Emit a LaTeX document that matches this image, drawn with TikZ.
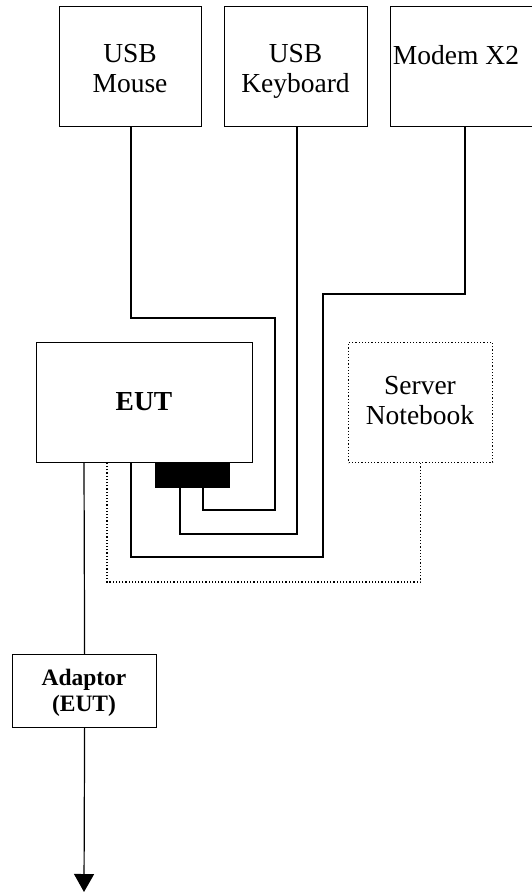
\documentclass[tikz,border=0pt]{standalone}
\usepackage{fontspec}
\setmainfont{Liberation Serif}
\usetikzlibrary{arrows.meta}
\begin{document}
\begin{tikzpicture}[x=1pt,y=-1pt,line width=1.2pt,
  box/.style={draw,rectangle,inner sep=0pt,anchor=north west},
  lbl/.style={font=\fontsize{27.5}{30}\selectfont,align=center,inner sep=0pt},
  wire/.style={draw,line width=1.2pt},
  dwire/.style={draw,line width=1.2pt,dotted}]
\useasboundingbox (0,0) rectangle (531,893);
% top devices
\node[box,minimum width=142pt,minimum height=120pt] (mouse) at (59,6) {};
\node[lbl] (mousetxt) at (130,73) {USB\\Mouse\strut};
\node[box,minimum width=143pt,minimum height=120pt] (kbd) at (224,6) {};
\node[lbl] (kbdtxt) at (295.5,73) {USB\\Keyboard\strut};
\node[box,minimum width=160pt,minimum height=120pt] (modem) at (390,6) {};
\node[lbl,anchor=base] (modemtxt) at (456,65) {Modem X2};
% EUT
\node[box,minimum width=216pt,minimum height=120pt] (eut) at (36,342) {};
\node[lbl,font=\fontsize{27.5}{30}\selectfont\bfseries] (euttxt) at (144,402) {EUT};
\node[box,fill=black,minimum width=74pt,minimum height=25pt] (conn) at (155,462) {};
% server
\node[box,dotted,minimum width=144pt,minimum height=120pt] (server) at (348,342) {};
\node[lbl] (servertxt) at (420,405) {Server\\Notebook\strut};
% adaptor
\node[box,minimum width=144pt,minimum height=73pt] (adaptor) at (12,654) {};
\node[lbl,font=\fontsize{23.5}{26}\selectfont\bfseries] (adtxt) at (84,693) {Adaptor\\(EUT)};
\coordinate (ground) at (84,892);
% wires
\draw[wire] (mouse.south -| 131,0) |- (275,318) |- (203,510) -- (203,0 |- conn.south);
\draw[wire] (kbd.south -| 297,0) |- (180,534) -- (180,0 |- conn.south);
\draw[wire] (modem.south -| 465,0) |- (323,294) |- (131,557) -- (131,0 |- eut.south);
\draw[dwire] (server.south) |- (107,582) -- (107,0 |- eut.south);
\draw[wire] (eut.south -| 84,0) -- (adaptor.north);
\draw[wire,-{Triangle[length=18pt,width=20pt]}] (adaptor.south) -- (ground);
\end{tikzpicture}
\end{document}
